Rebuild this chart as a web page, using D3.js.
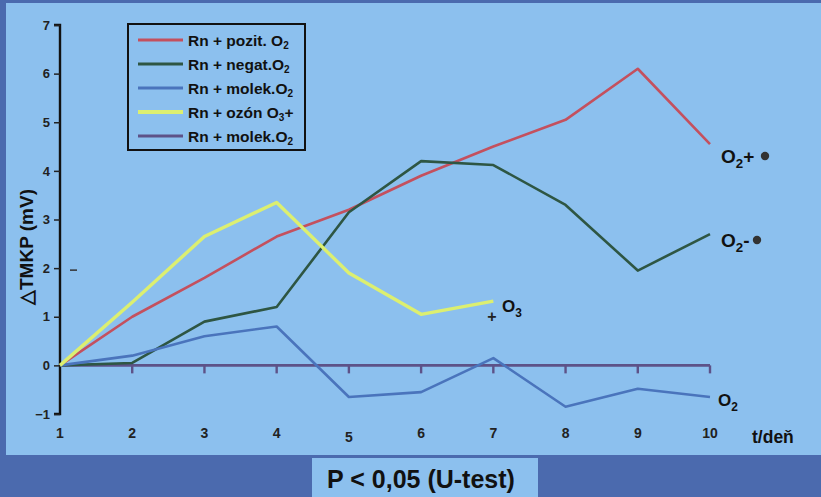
<!DOCTYPE html>
<html>
<head>
<meta charset="utf-8">
<script src="https://cdn.jsdelivr.net/npm/d3@7"></script>
<style>
  html, body { margin: 0; padding: 0; background: #4b6aae; }
  svg { display: block; font-family: "Liberation Sans", Arial, sans-serif; font-weight: bold; }
</style>
</head>
<body>
<svg id="chart" width="821" height="497"></svg>
<script>
// ---------- data ----------
const days = [1, 2, 3, 4, 5, 6, 7, 8, 9, 10];
const yTicks = [-1, 0, 1, 2, 3, 4, 5, 6, 7];
const pozitO2 = [0, 1.0, 1.8, 2.65, 3.2, 3.9, 4.5, 5.05, 6.1, 4.55];
const negatO2 = [0, 0.05, 0.9, 1.2, 3.15, 4.2, 4.12, 3.3, 1.95, 2.7];
const molekO2 = [0, 0.2, 0.6, 0.8, -0.65, -0.55, 0.15, -0.85, -0.48, -0.65];
const ozonO3 = [0, 1.3, 2.65, 3.35, 1.9, 1.05, 1.32];
const molekO2b = [0, 0, 0, 0, 0, 0, 0, 0, 0, 0];

const legendNames = [
  ["Rn + pozit. O", "2", ""],
  ["Rn + negat.O", "2", ""],
  ["Rn + molek.O", "2", ""],
  ["Rn + ozón O", "3", "+"],
  ["Rn + molek.O", "2", ""]
];
const colors = ["#c4505e", "#2e5643", "#4a74bc", "#dcef70", "#5d5288"];

// ---------- layout ----------
const svg = d3.select("#chart");

// background panels
svg.append("rect").attr("x", 6).attr("y", 3).attr("width", 815).attr("height", 452).attr("fill", "#8cc0ee");
svg.append("rect").attr("x", 312).attr("y", 458).attr("width", 226).attr("height", 39).attr("fill", "#8cc0ee");

const x = d3.scaleLinear().domain([1, 10]).range([60, 710]);
const y = d3.scaleLinear().domain([-1, 7]).range([414, 25]);

// y axis
const yAxis = svg.append("g").attr("transform", `translate(${x(1)},0)`)
  .call(d3.axisLeft(y).tickValues(yTicks).tickSize(6).tickFormat(d => d < 0 ? "\u2212" + Math.abs(d) : d));
yAxis.select(".domain").attr("stroke", "#111").attr("stroke-width", 2.4).attr("d", `M-6,${y(7)}H0V${y(-1)}H-6`);
yAxis.selectAll(".tick line").attr("stroke", "#222").attr("stroke-width", 1.5);
yAxis.selectAll(".tick text").attr("fill", "#222").attr("font-size", 13).attr("font-weight", "bold")
  .attr("font-family", "'Liberation Sans', Arial, sans-serif").attr("x", -10);

// stray dash next to the "2" tick
svg.append("line").attr("x1", x(1) + 10).attr("x2", x(1) + 17).attr("y1", y(2) + 2).attr("y2", y(2) + 2)
  .attr("stroke", "#333").attr("stroke-width", 1.5);

// x tick labels
svg.append("g").selectAll("text").data(days).join("text")
  .attr("x", d => x(d)).attr("y", d => d === 5 ? 442 : 438)
  .attr("text-anchor", "middle").attr("font-size", 14).attr("fill", "#222")
  .text(d => d);
svg.append("text").attr("x", 752).attr("y", 443).attr("font-size", 17.5).attr("fill", "#111").text("t/deň");

// y label
svg.append("text").attr("transform", `translate(33,247) rotate(-90)`)
  .attr("text-anchor", "middle").attr("font-size", 19).attr("fill", "#111")
  .text("\u25B3TMKP (mV)");

// ---------- lines ----------
const line = d3.line().x((d, i) => x(days[i])).y(d => y(d));
const series = [pozitO2, negatO2, molekO2, ozonO3];

// zero line (Rn + molek.O2, second) with ticks down
svg.append("path").datum(molekO2b).attr("d", line)
  .attr("fill", "none").attr("stroke", colors[4]).attr("stroke-width", 2.6);
svg.append("g").selectAll("line").data(days.slice(1)).join("line")
  .attr("x1", d => x(d)).attr("x2", d => x(d)).attr("y1", y(0)).attr("y2", y(0) + 8)
  .attr("stroke", colors[4]).attr("stroke-width", 2.4);

series.forEach((s, i) => {
  svg.append("path").datum(s).attr("d", line)
    .attr("fill", "none").attr("stroke", colors[i])
    .attr("stroke-width", i === 3 ? 3.4 : 2.6).attr("stroke-linejoin", "round");
});

// ---------- end annotations ----------
function chem(xp, yp, sub, tail, size) {
  const t = svg.append("text").attr("x", xp).attr("y", yp).attr("font-size", size).attr("fill", "#111");
  t.append("tspan").text("O");
  t.append("tspan").attr("dy", 5).attr("font-size", size * 0.7).text(sub);
  if (tail) t.append("tspan").attr("dy", -5).text(tail);
  return t;
}
chem(721, 163, "2", "+", 19);
svg.append("circle").attr("cx", 765).attr("cy", 156).attr("r", 4.2).attr("fill", "#333");
chem(721, 247, "2", "-", 19);
svg.append("circle").attr("cx", 757).attr("cy", 240).attr("r", 4.2).attr("fill", "#333");
chem(718, 406, "2", "", 17);
chem(502, 312, "3", "", 17);
svg.append("text").attr("x", 492).attr("y", 322).attr("text-anchor", "middle")
  .attr("font-size", 16).attr("fill", "#222").text("+");

// ---------- legend ----------
const leg = svg.append("g");
leg.append("rect").attr("x", 128).attr("y", 24).attr("width", 177).attr("height", 126)
  .attr("fill", "none").attr("stroke", "#111").attr("stroke-width", 2);
const rows = leg.selectAll("g").data(legendNames).join("g")
  .attr("transform", (d, i) => `translate(0,${40 + i * 24})`);
rows.append("line").attr("x1", 138).attr("x2", 183).attr("y1", 0).attr("y2", 0)
  .attr("stroke", (d, i) => colors[i]).attr("stroke-width", (d, i) => i === 3 ? 4 : 3);
const lt = rows.append("text").attr("x", 188).attr("y", 6).attr("font-size", 15.5).attr("fill", "#111");
lt.append("tspan").text(d => d[0]);
lt.append("tspan").attr("dy", 3).attr("font-size", 10).text(d => d[1]);
lt.append("tspan").attr("dy", -3).text(d => d[2]);

// ---------- footer ----------
svg.append("text").attr("x", 421).attr("y", 488).attr("text-anchor", "middle")
  .attr("font-size", 25).attr("fill", "#111").text("P < 0,05 (U-test)");
</script>
</body>
</html>
